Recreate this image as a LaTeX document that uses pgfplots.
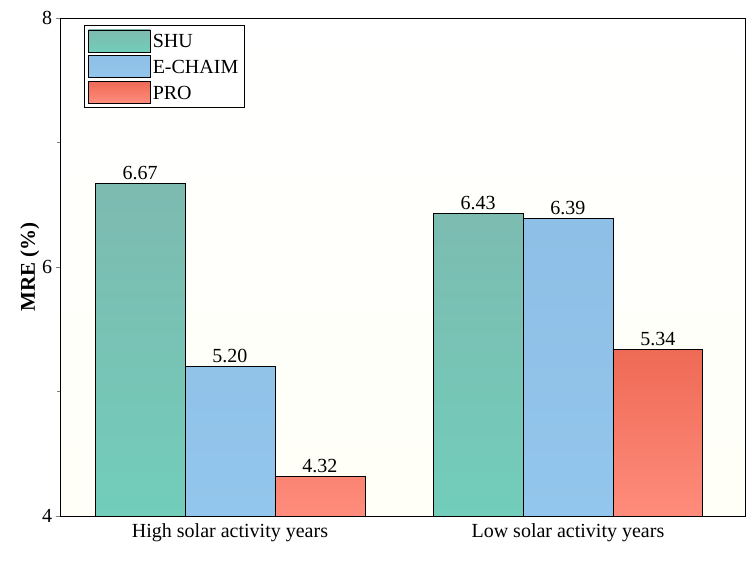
\documentclass[border=0pt]{standalone}
\usepackage{pgfplots}
\pgfplotsset{compat=1.18}
\usepackage{fontspec}
\setmainfont{Liberation Serif}
\definecolor{shuT}{HTML}{7DBAB0}
\definecolor{shuB}{HTML}{72CDBA}
\definecolor{ecT}{HTML}{8EBFE6}
\definecolor{ecB}{HTML}{93C6EC}
\definecolor{prT}{HTML}{EE6A55}
\definecolor{prB}{HTML}{FF8C7C}
\newcommand{\F}{\fontsize{20}{23}\selectfont}
\begin{document}
\begin{tikzpicture}
\fill[white] (-60pt,-46pt) rectangle (687pt,516pt);
\begin{axis}[
  scale only axis, width=685pt, height=498pt,
  xmin=-0.503, xmax=1.524, ymin=4, ymax=8,
  ytick={4,6,8}, minor y tick num=1, ytick pos=left,
  xtick={0,1}, xticklabels={\F High solar activity years, \F Low solar activity years},
  yticklabels={\F 4,\F 6,\F 8},
  /pgf/number format/assume math mode=true,
  ylabel={\fontsize{21}{24}\selectfont\textbf{MRE (\%)}}, ylabel style={yshift=-4pt},
  ybar=0pt, bar width=0.266,
  axis background/.style={top color=white, bottom color=yellow!3},
  tick align=outside, xtick style={draw=none},
  nodes near coords={\F\pgfmathprintnumber[fixed,fixed zerofill,precision=2]{\pgfplotspointmeta}},
  legend style={at={(0.035,0.985)}, anchor=north west, draw=black, row sep=3pt, inner sep=4pt},
  legend cell align=left,
  legend image code/.code={\draw[#1] (0pt,-10pt) rectangle (62pt,12pt);},
  every axis plot/.append style={draw=black, line width=0.6pt},
]
\addplot[top color=shuT, bottom color=shuB, draw=black] coordinates {(0,6.67) (1,6.43)};
\addplot[top color=ecT, bottom color=ecB, draw=black] coordinates {(0,5.20) (1,6.39)};
\addplot[top color=prT, bottom color=prB, draw=black] coordinates {(0,4.32) (1,5.34)};
\legend{\F SHU, \F E-CHAIM, \F PRO}
\end{axis}
\end{tikzpicture}
\end{document}
